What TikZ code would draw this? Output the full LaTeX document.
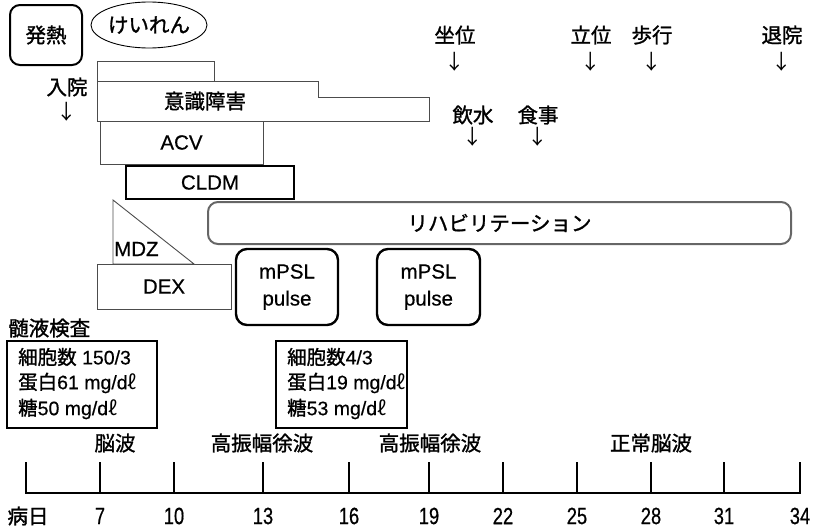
\documentclass[tikz,border=0pt]{standalone}
\usepackage{fontspec}
\setmainfont[FakeBold=0.5]{Liberation Sans}
\newfontfamily\cjk[FakeBold=1.3]{Noto Sans CJK JP}
\newfontfamily\arrowfont{Noto Sans CJK JP}
\newfontfamily\narrowfont[FakeStretch=0.78,FakeBold=0.5]{Liberation Sans}
\usetikzlibrary{shapes.geometric}
\tikzset{
  txt/.style={inner sep=0pt, font=\fontsize{20.5}{24}\selectfont},
  csftxt/.style={inner sep=0pt, font=\fontsize{19.5}{24}\selectfont},
  jtxt/.style={inner sep=0pt, font=\cjk\fontsize{20.5}{24}\selectfont},
  arr/.style={inner sep=0pt, font=\arrowfont\fontsize{20.5}{24}\selectfont},
  thinbox/.style={draw=black!70, line width=0.9pt, inner sep=0pt},
  boldbox/.style={draw=black, line width=2pt, inner sep=0pt},
  pulsebox/.style={draw=black, line width=2.4pt, rounded corners=11pt, inner sep=0pt, align=center, font=\fontsize{20.5}{27}\selectfont},
  rehabbox/.style={draw=black!60, line width=2pt, rounded corners=10pt, inner sep=0pt},
  csfbox/.style={draw=black, line width=1.5pt, inner sep=0pt},
  axisline/.style={draw=black, line width=1.5pt},
  ticklbl/.style={inner sep=0pt, font=\narrowfont\fontsize{23.5}{24}\selectfont},
}
\begin{document}
\begin{tikzpicture}[x=1pt,y=-1pt]
\useasboundingbox (0,0) rectangle (815,530);

% top-left
\node[draw=black, line width=2pt, rounded corners=10pt, minimum width=72, minimum height=60, jtxt] (fever) at (46,35) {発熱};
\node[ellipse, draw=black, line width=0.9pt, minimum width=104, minimum height=46, inner sep=0pt, font=\cjk\fontsize{20.5}{24}\selectfont] (seizure) at (149,25) {けいれん};

% timeline bars
\node[thinbox, minimum width=117, minimum height=20] (seizbar) at (155.5,71) {};
\draw[black!70, line width=0.9pt] (97,81) -- (318,81) -- (318,97) -- (429,97) -- (429,121) -- (97,121) -- cycle;
\node[jtxt] (consc) at (205,101) {意識障害};
\node[thinbox, minimum width=163, minimum height=43, txt] (acv) at (181.5,142.5) {ACV};
\node[boldbox, minimum width=168, minimum height=33, txt] (cldm) at (210,182.5) {CLDM};
\draw[black!70, line width=0.9pt] (113,200) -- (113,264) -- (194,264) -- cycle;
\node[txt, anchor=west] (mdz) at (114,249) {MDZ};
\node[thinbox, minimum width=134, minimum height=45, txt] (dex) at (164,286.5) {DEX};
\node[rehabbox, minimum width=583, minimum height=42, jtxt] (rehab) at (499.5,223) {リハビリテーション};
\node[pulsebox, minimum width=102, minimum height=76] (pulse1) at (287,287) {mPSL\\pulse};
\node[pulsebox, minimum width=103, minimum height=76] (pulse2) at (428.5,287) {mPSL\\pulse};

% events
\node[jtxt] (adm) at (67,87) {入院};
\node[arr] (admarr) at (67,112) {↓};
\node[jtxt] (sit) at (455,35) {坐位};
\node[arr] (sitarr) at (455,62) {↓};
\node[jtxt] (stand) at (591,35) {立位};
\node[arr] (standarr) at (591,62) {↓};
\node[jtxt] (walk) at (652,35) {歩行};
\node[arr] (walkarr) at (652,62) {↓};
\node[jtxt] (disch) at (782,35) {退院};
\node[arr] (discharr) at (782,62) {↓};
\node[jtxt] (drink) at (473,115) {飲水};
\node[arr] (drinkarr) at (473,137) {↓};
\node[jtxt] (meal) at (538,115) {食事};
\node[arr] (mealarr) at (538,137) {↓};

% CSF
\node[jtxt, anchor=west] (csf) at (8,328) {髄液検査};
\node[csfbox, minimum width=150, minimum height=87] (csf1) at (82,384.5) {};
\node[csftxt, anchor=west] (c1a) at (18,357) {{\cjk 細胞数} 150/3};
\node[csftxt, anchor=west] (c1b) at (18,383) {{\cjk 蛋白}61 mg/d{\arrowfont ℓ}};
\node[csftxt, anchor=west] (c1c) at (18,409) {{\cjk 糖}50 mg/d{\arrowfont ℓ}};
\node[csfbox, minimum width=131, minimum height=87] (csf2) at (341.5,384.5) {};
\node[csftxt, anchor=west] (c2a) at (287,357) {{\cjk 細胞数}4/3};
\node[csftxt, anchor=west] (c2b) at (287,383) {{\cjk 蛋白}19 mg/d{\arrowfont ℓ}};
\node[csftxt, anchor=west] (c2c) at (287,409) {{\cjk 糖}53 mg/d{\arrowfont ℓ}};

% EEG
\node[jtxt] (eeg) at (115,443) {脳波};
\node[jtxt] (eeg1) at (262,443) {高振幅徐波};
\node[jtxt] (eeg2) at (430,443) {高振幅徐波};
\node[jtxt] (eeg3) at (651,443) {正常脳波};

% axis
\draw[axisline] (26,462) -- (26,493) -- (800,493) -- (800,462);
\foreach \x in {100,174,263,349,429,503,577,651,724} {
  \draw[axisline] (\x,462) -- (\x,493);
}
\node[jtxt] (day) at (28,516) {病日};
\foreach \x/\d in {100/7,174/10,263/13,349/16,429/19,503/22,577/25,651/28,724/31,800/34} {
  \node[ticklbl] (t\d) at (\x,516) {\d};
}
\end{tikzpicture}
\end{document}
